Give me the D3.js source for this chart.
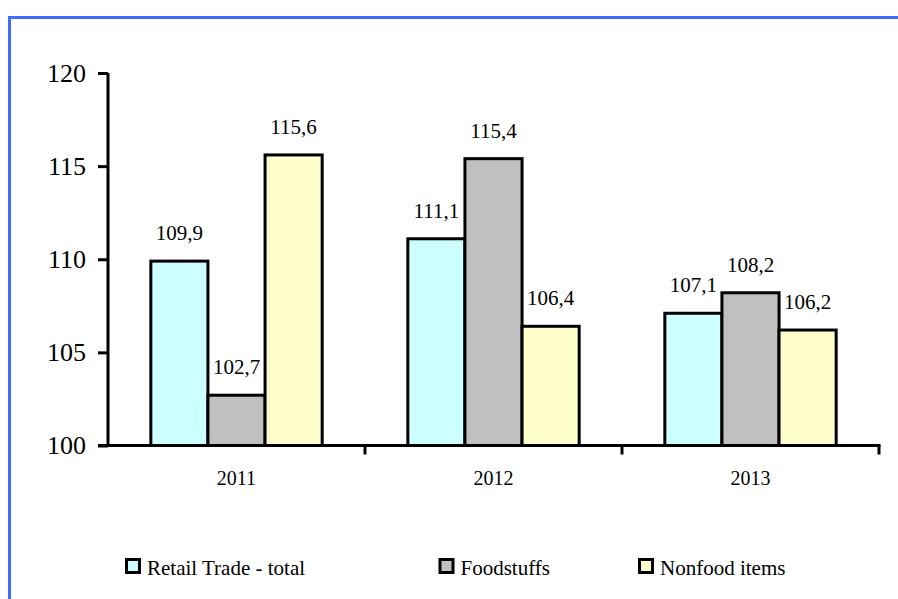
<!DOCTYPE html>
<html><head><meta charset="utf-8">
<script src="https://cdn.jsdelivr.net/npm/d3@7"></script>
<style>
html,body{margin:0;padding:0;background:#fff;}
svg{display:block;}
</style></head>
<body>
<svg id="chart" width="898" height="599"></svg>
<script>
const categories = ["2011", "2012", "2013"];
const seriesNames = ["Retail Trade - total", "Foodstuffs", "Nonfood items"];
const retailTotal = [109.9, 111.1, 107.1];
const foodstuffs = [102.7, 115.4, 108.2];
const nonfood = [115.6, 106.4, 106.2];
const yTicks = [100, 105, 110, 115, 120];
const seriesColors = ["#CCFFFF", "#C0C0C0", "#FFFFCC"];

const seriesValues = [retailTotal, foodstuffs, nonfood];
const svg = d3.select("#chart");
const FONT = '"Liberation Serif"';

// frame
svg.append("line").attr("x1", 8).attr("x2", 898).attr("y1", 17.5).attr("y2", 17.5)
  .attr("stroke", "#3F6CFF").attr("stroke-width", 3);
svg.append("line").attr("x1", 9.5).attr("x2", 9.5).attr("y1", 16).attr("y2", 599)
  .attr("stroke", "#3F6CFF").attr("stroke-width", 3);

const pLeft = 108, pRight = 879, pTop = 73, pBottom = 445.5;
const x = d3.scaleBand().domain(categories).range([pLeft, pRight]).paddingInner(0).paddingOuter(0);
const y = d3.scaleLinear().domain([100, 120]).range([pBottom, pTop]);
const bw = x.bandwidth() / 4.5;
const xs = d3.scaleBand().domain(d3.range(3)).range([bw * 0.75, bw * 3.75]);

// bars
categories.forEach((c, ci) => {
  seriesValues.forEach((vals, si) => {
    const v = vals[ci];
    const bx = x(c) + xs(si);
    svg.append("rect")
      .attr("x", bx).attr("y", y(v))
      .attr("width", xs.bandwidth()).attr("height", y(100) - y(v))
      .attr("fill", seriesColors[si]).attr("stroke", "#000").attr("stroke-width", 3);
    svg.append("text")
      .attr("x", bx + xs.bandwidth() / 2).attr("y", y(v) - 21)
      .attr("text-anchor", "middle").attr("font-size", 21).style("font-family", FONT).attr("fill", "#000")
      .text(d3.format(".1f")(v).replace(".", ","));
  });
});

// y axis
const yAxis = d3.axisLeft(y).tickValues(yTicks).tickSize(10).tickPadding(12).tickFormat(d3.format("d"));
const gy = svg.append("g").attr("transform", `translate(${pLeft},0)`).call(yAxis);
gy.select(".domain").attr("stroke", "#000").attr("stroke-width", 3).attr("d", `M0,${pTop}V${pBottom + 1.5}`);
gy.selectAll(".tick line").attr("stroke", "#000").attr("stroke-width", 3);
gy.selectAll(".tick text").attr("font-size", 26).attr("fill", "#000").style("font-family", FONT);

// x axis
const gx = svg.append("g").attr("transform", `translate(0,${pBottom})`);
gx.append("line").attr("x1", pLeft - 10).attr("x2", pRight + 1.5).attr("y1", 0).attr("y2", 0)
  .attr("stroke", "#000").attr("stroke-width", 3);
const boundaries = categories.map(c => x(c) + x.bandwidth());
gx.selectAll("line.tk").data(boundaries).join("line").attr("class", "tk")
  .attr("x1", d => d).attr("x2", d => d).attr("y1", 0).attr("y2", 9)
  .attr("stroke", "#000").attr("stroke-width", 3);
gx.selectAll("text").data(categories).join("text")
  .attr("x", d => x(d) + x.bandwidth() / 2).attr("y", 39)
  .attr("text-anchor", "middle").attr("font-size", 20).style("font-family", FONT).attr("fill", "#000")
  .text(d => d);

// legend
const legendX = [126.5, 440, 639.5];
const lg = svg.append("g");
seriesNames.forEach((n, i) => {
  lg.append("rect").attr("x", legendX[i]).attr("y", 559.5).attr("width", 13).attr("height", 13)
    .attr("fill", seriesColors[i]).attr("stroke", "#000").attr("stroke-width", 3);
  lg.append("text").attr("x", legendX[i] + 20.5).attr("y", 575)
    .attr("font-size", 21).style("font-family", FONT).attr("fill", "#000").text(n);
});
</script>
</body></html>
